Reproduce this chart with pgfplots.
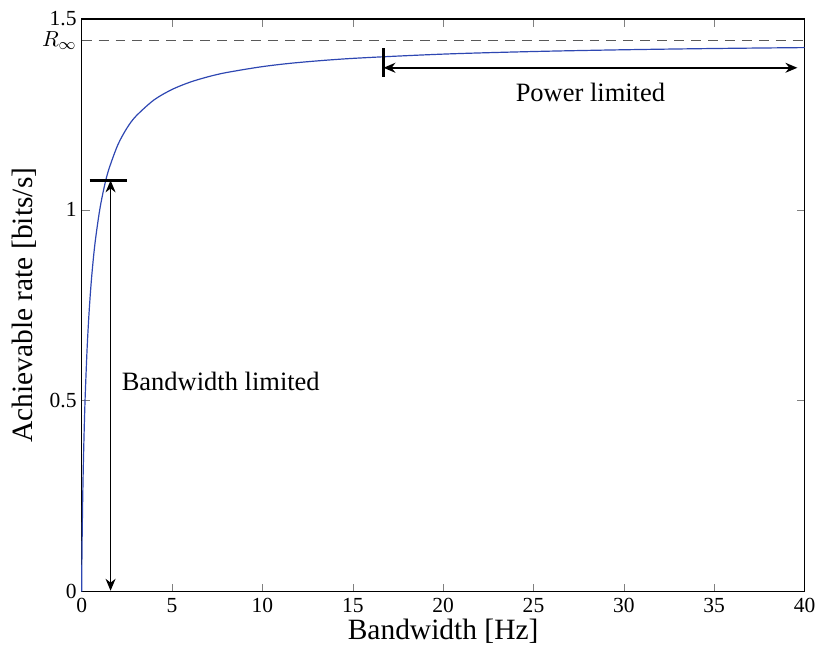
\documentclass[border=0pt]{standalone}
\usepackage{fontspec}
\setmainfont{Liberation Serif}
\usepackage{pgfplots}
\pgfplotsset{compat=1.18}
\usetikzlibrary{arrows.meta}
\definecolor{curve}{rgb}{0.18,0.28,0.70}
\begin{document}
\begin{tikzpicture}
\begin{axis}[
  scale only axis,
  width=363pt, height=287.5pt,
  xmin=0, xmax=40, ymin=0, ymax=1.5,
  xtick={0,5,...,40},
  ytick={0,0.5,1,1.5},
  extra y ticks={1.4427},
  extra y tick labels={$R_\infty$},
  extra y tick style={tick style={draw=none}},
  tick align=inside,
  tick pos=both,
  major tick length=4pt,
  axis line style={line width=0.8pt},
  /pgf/number format/assume math mode=true,
  tick label style={font=\fontsize{10.8}{12}\selectfont},
  xlabel={Bandwidth [Hz]},
  ylabel={Achievable rate [bits/s]},
  label style={font=\fontsize{14.8}{16}\selectfont},
  xlabel style={yshift=4pt},
  ylabel style={yshift=-4pt},
  yticklabel style={xshift=1pt},
  clip=false,
]
\addplot[gray!70!black, dashed, line width=0.7pt, dash pattern=on 5pt off 3.5pt] coordinates {(0,1.4427) (40,1.4427)};
\addplot[curve, line width=0.6pt, smooth] coordinates {
(0,0) (0.002,0.0179) (0.005,0.0383) (0.01,0.0666) (0.02,0.1134) (0.03,0.1530)
(0.05,0.2196) (0.07,0.2754) (0.1,0.3459) (0.15,0.4408) (0.2,0.517) (0.3,0.6346)
(0.4,0.7229) (0.5,0.7925) (0.6,0.849) (0.75,0.9168) (1,1.0) (1.25,1.06)
(1.5,1.1055) (2,1.1699) (2.5,1.2136) (3,1.2451) (4,1.2877) (5,1.3152)
(6,1.3344) (7,1.3485) (8,1.3594) (10,1.3750) (12,1.3858) (15,1.3966)
(20,1.4078) (25,1.4146) (30,1.4192) (35,1.4225) (40,1.4249)};
% bandwidth limited annotation
\addplot[black, line width=1.2pt] coordinates {(0.44,1.077) (2.53,1.077)};
\addplot[black, line width=0.8pt, {Stealth[length=6pt,width=5pt]}-{Stealth[length=6pt,width=5pt]}] coordinates {(1.6,0.002) (1.6,1.077)};
% power limited annotation
\addplot[black, line width=1.2pt] coordinates {(16.7,1.349) (16.7,1.424)};
\addplot[black, line width=0.8pt, {Stealth[length=6pt,width=5pt]}-{Stealth[length=6pt,width=5pt]}] coordinates {(16.7,1.372) (39.6,1.372)};
\node[font=\fontsize{13.3}{15}\selectfont, anchor=west, inner sep=0pt] at (axis cs:2.2,0.55) {Bandwidth limited};
\node[font=\fontsize{13.3}{15}\selectfont] at (axis cs:28.15,1.307) {Power limited};
\path (rel axis cs:0,0) ++(-41pt,-29pt) coordinate (bbA);
\path (rel axis cs:1,1) ++(7pt,9.5pt) coordinate (bbB);
\end{axis}
\end{tikzpicture}
\end{document}
